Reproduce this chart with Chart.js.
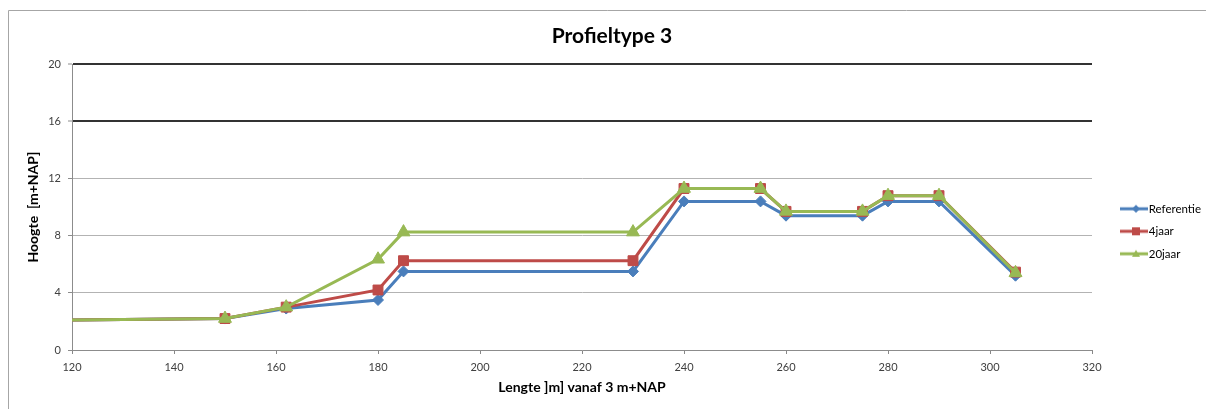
<!DOCTYPE html>
<html>
<head>
<meta charset="utf-8">
<script src="https://cdn.jsdelivr.net/npm/chart.js@4/dist/chart.umd.min.js"></script>
<style>
  html, body { margin: 0; padding: 0; background: #fff; }
  #wrap { width: 1206px; height: 409px; }
</style>
</head>
<body>
<div id="wrap"><canvas id="c" width="1206" height="409"></canvas></div>
<script>
// Profile positions along the cross-section (m) and heights (m+NAP)
const lengte = [120, 150, 162, 180, 185, 230, 240, 255, 260, 275, 280, 290, 305];
const referentie = [2.1, 2.2, 2.9, 3.5, 5.5, 5.5, 10.4, 10.4, 9.4, 9.4, 10.4, 10.4, 5.2];
const jaar4 = [2.1, 2.2, 3.0, 4.2, 6.25, 6.25, 11.3, 11.3, 9.7, 9.7, 10.8, 10.8, 5.45];
const jaar20 = [2.1, 2.2, 3.0, 6.35, 8.25, 8.25, 11.3, 11.3, 9.7, 9.7, 10.8, 10.8, 5.4];
const seriesNames = ['Referentie', '4jaar', '20jaar'];
const xTicks = [120, 140, 160, 180, 200, 220, 240, 260, 280, 300, 320];
const yTicks = [0, 4, 8, 12, 16, 20];

const FONT = 'Lato, "Open Sans", "Liberation Sans", sans-serif';
const COLORS = ['#4A7EBB', '#BE4B48', '#98B954'];
const STYLES = ['rectRot', 'rect', 'triangle'];
const RADII = [5.5, 7, 7.5];

function toPoints(values) {
  return lengte.map((x, i) => ({ x: x, y: values[i] }));
}

// legend swatch: short line with the series marker, left part kept transparent
function swatch(color, style) {
  const cv = document.createElement('canvas');
  cv.width = 54; cv.height = 12;
  const g = cv.getContext('2d');
  g.strokeStyle = color; g.fillStyle = color; g.lineWidth = 3;
  g.beginPath(); g.moveTo(24, 6); g.lineTo(52, 6); g.stroke();
  const cx = 40;
  g.beginPath();
  if (style === 'rectRot') {
    g.moveTo(cx, 2); g.lineTo(cx + 4, 6); g.lineTo(cx, 10); g.lineTo(cx - 4, 6);
  } else if (style === 'rect') {
    g.rect(cx - 4, 2, 8, 8);
  } else {
    g.moveTo(cx, 2); g.lineTo(cx + 4, 9); g.lineTo(cx - 4, 9);
  }
  g.closePath(); g.fill();
  return cv;
}
const swatches = COLORS.map((c, i) => swatch(c, STYLES[i]));

const allSeries = [referentie, jaar4, jaar20];
const datasets = allSeries.map((vals, i) => ({
  label: seriesNames[i],
  data: toPoints(vals),
  borderColor: COLORS[i],
  backgroundColor: COLORS[i],
  borderWidth: 3,
  pointStyle: STYLES[i],
  pointRadius: ctx => (ctx.dataIndex === 0 ? 0 : RADII[i]),
  pointHoverRadius: RADII[i],
  pointBorderWidth: 1,
  tension: 0,
  order: 3 - i
}));

const frame = {
  id: 'frame',
  beforeDraw(chart) {
    const g = chart.ctx;
    g.save();
    g.strokeStyle = '#a6a6a6';
    g.lineWidth = 1;
    g.beginPath();
    g.moveTo(8.5, 409); g.lineTo(8.5, 10.5); g.lineTo(1206, 10.5);
    g.stroke();
    g.restore();
  }
};

new Chart(document.getElementById('c'), {
  type: 'line',
  data: { datasets: datasets },
  plugins: [frame],
  options: {
    responsive: false,
    animation: false,
    layout: { padding: { left: 18, right: 0, top: 0, bottom: 0 } },
    plugins: {
      title: {
        display: true,
        text: 'Profieltype 3',
        color: '#000',
        font: { family: FONT, size: 21, weight: 'bold' },
        padding: { top: 24, bottom: 15 }
      },
      legend: {
        position: 'right',
        fullSize: false,
        align: 'center',
        maxWidth: 114,
        title: { display: true, text: ' ', font: { size: 2 }, padding: { top: 0, bottom: 46 } },
        labels: {
          color: '#000',
          font: { family: FONT, size: 11.5 },
          usePointStyle: true,
          pointStyleWidth: 40,
          boxHeight: 11,
          padding: 11,
          sort: (a, b) => a.datasetIndex - b.datasetIndex,
          generateLabels(chart) {
            const items = Chart.defaults.plugins.legend.labels.generateLabels(chart);
            items.forEach(it => { it.pointStyle = swatches[it.datasetIndex]; });
            return items;
          }
        }
      },
      tooltip: { enabled: false }
    },
    scales: {
      x: {
        type: 'linear',
        min: 120, max: 320,
        afterFit(s) { s.height = 59; },
        afterBuildTicks(s) { s.ticks = xTicks.map(v => ({ value: v })); },
        ticks: { color: '#404040', font: { family: FONT, size: 11 }, padding: 7, maxRotation: 0 },
        grid: { drawOnChartArea: false, drawTicks: true, tickLength: 4, color: '#888' },
        border: { color: '#8c8c8c', width: 1 },
        title: {
          display: true,
          text: 'Lengte ]m] vanaf 3 m+NAP',
          color: '#000',
          font: { family: FONT, size: 14, weight: 'bold' },
          padding: { top: 0, bottom: 13 }
        }
      },
      y: {
        min: 0, max: 20,
        afterFit(s) { s.width = 54; },
        afterBuildTicks(s) { s.ticks = yTicks.map(v => ({ value: v })); },
        ticks: { color: '#404040', font: { family: FONT, size: 11 }, padding: 7 },
        grid: {
          drawTicks: true,
          tickLength: 4,
          color: ctx => (ctx.tick && ctx.tick.value >= 16 ? '#333' : '#b3b3b3'),
          lineWidth: ctx => (ctx.tick && ctx.tick.value >= 16 ? 2 : 1),
          tickColor: '#8c8c8c',
          tickWidth: 1
        },
        border: { color: '#8c8c8c', width: 1 },
        title: {
          display: true,
          text: 'Hoogte  [m+NAP]',
          color: '#000',
          font: { family: FONT, size: 14, weight: 'bold' },
          padding: { top: 7, bottom: 0 }
        }
      }
    }
  }
});
</script>
</body>
</html>
